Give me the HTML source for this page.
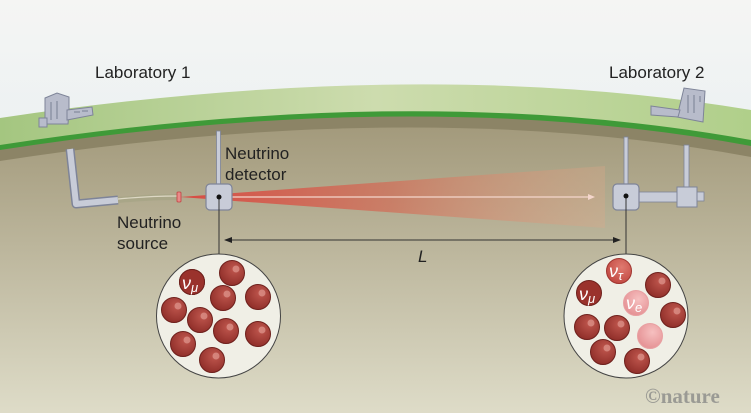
<!DOCTYPE html>
<html><head><meta charset="utf-8"><style>
html,body{margin:0;padding:0;width:751px;height:413px;overflow:hidden}
svg{display:block;font-family:"Liberation Sans",sans-serif}
</style></head><body>
<svg width="751" height="413" viewBox="0 0 751 413" xmlns="http://www.w3.org/2000/svg">
<defs>
<linearGradient id="sky" x1="0" y1="0" x2="0" y2="1"><stop offset="0" stop-color="#f5f5f3"/><stop offset="0.6" stop-color="#e4eef2"/><stop offset="1" stop-color="#cfe6f3"/></linearGradient>
<linearGradient id="earth" x1="0" y1="0" x2="0" y2="1"><stop offset="0" stop-color="#a39a7c"/><stop offset="1" stop-color="#dedcc8"/></linearGradient>
<linearGradient id="grass" x1="0" y1="0" x2="1" y2="0"><stop offset="0" stop-color="#a4c680"/><stop offset="0.5" stop-color="#cddcae"/><stop offset="1" stop-color="#b0cf8a"/></linearGradient>
<linearGradient id="beam" x1="0" y1="0" x2="1" y2="0"><stop offset="0" stop-color="#d84a42" stop-opacity="1"/><stop offset="0.5" stop-color="#d0705a" stop-opacity="0.75"/><stop offset="1" stop-color="#e0a888" stop-opacity="0.3"/></linearGradient>
<radialGradient id="ball" cx="0.6" cy="0.35" r="0.7"><stop offset="0" stop-color="#c0574e"/><stop offset="1" stop-color="#8e2d28"/></radialGradient>
<radialGradient id="pink" cx="0.6" cy="0.35" r="0.7"><stop offset="0" stop-color="#f6c0c0"/><stop offset="1" stop-color="#e48f92"/></radialGradient>
<radialGradient id="mid" cx="0.6" cy="0.35" r="0.7"><stop offset="0" stop-color="#e07a70"/><stop offset="1" stop-color="#c0463f"/></radialGradient>
<g id="b"><circle r="12.5" fill="url(#ball)" stroke="#6e201c" stroke-width="1"/><circle cx="4" cy="-4" r="3.5" fill="#e09890" opacity="0.7"/></g>
</defs>
<rect width="751" height="413" fill="url(#sky)"/>
<path d="M0 118 Q420 55 751 110 L751 413 L0 413 Z" fill="url(#grass)"/>
<path d="M0 145 Q420 80 751 140 L751 413 L0 413 Z" fill="#3f9a38"/>
<path d="M0 150 Q420 85 751 146 L751 413 L0 413 Z" fill="#8c8466"/>
<path d="M0 161 Q420 96 751 157 L751 413 L0 413 Z" fill="url(#earth)"/>
<!-- beam -->
<path d="M180 197 L605 166 L605 228 Z" fill="url(#beam)"/>
<line x1="230" y1="197" x2="588" y2="197" stroke="#f4d6cc" stroke-width="1.2"/>
<path d="M588 194 L595 197 L588 200 Z" fill="#f4d6cc"/>
<!-- lab 1 -->
<g fill="#b8bccb" stroke="#7e8498" stroke-width="1">
<path d="M45 124 L45 98 L57 93 L69 97 L69 110 L68 124 Z"/>
<path d="M67 110 L92 107 L93 115 L67 120 Z"/>
<rect x="39" y="118" width="8" height="9"/>
</g>
<path d="M51 102 v18 M57 101 v18 M74 112 h6 M82 111 h6" stroke="#8d93a6" stroke-width="1.5"/>
<!-- source tube -->
<path d="M70 149 L76 204 L118 200" fill="none" stroke="#7e8498" stroke-width="9" stroke-linejoin="round"/>
<path d="M70 149 L76 204 L118 200" fill="none" stroke="#c8ccd8" stroke-width="6" stroke-linejoin="round"/>
<path d="M118 200 Q150 197 178 197" fill="none" stroke="#a9a688" stroke-width="6"/>
<path d="M118 199 Q150 196 178 196" fill="none" stroke="#ddd8c4" stroke-width="1.2"/>
<rect x="177" y="192" width="4" height="10" rx="1" fill="#e88a88" stroke="#c04040" stroke-width="0.8"/>
<!-- detector 1 -->
<rect x="216.5" y="131" width="4" height="56" fill="#c8ccd8" stroke="#7e8498" stroke-width="0.8"/>
<rect x="206" y="184" width="26" height="26" rx="4" fill="#c8ccd8" stroke="#7e8498" stroke-width="1.2"/>
<!-- lab 2 -->
<g fill="#b8bccb" stroke="#7e8498" stroke-width="1">
<path d="M677 117 L684 88 L705 91 L703 122 Z"/>
<path d="M651 106 L680 110 L678 117 L651 115 Z"/>
</g>
<path d="M688 95 v18 M694 95 v18 M700 96 v6" stroke="#8d93a6" stroke-width="1.5"/>
<!-- detector 2 tubes -->
<rect x="624" y="137" width="4" height="50" fill="#c8ccd8" stroke="#7e8498" stroke-width="0.8"/>
<rect x="684" y="145" width="5" height="45" fill="#c8ccd8" stroke="#7e8498" stroke-width="0.8"/>
<rect x="636" y="192" width="42" height="10" fill="#c8ccd8" stroke="#7e8498" stroke-width="0.8"/>
<rect x="696" y="192" width="8" height="9" fill="#c8ccd8" stroke="#7e8498" stroke-width="0.8"/>
<rect x="677" y="187" width="20" height="20" fill="#c8ccd8" stroke="#7e8498" stroke-width="1"/>
<rect x="613" y="184" width="26" height="26" rx="4" fill="#c8ccd8" stroke="#7e8498" stroke-width="1.2"/>
<!-- verticals -->
<line x1="219" y1="197" x2="219" y2="254" stroke="#333" stroke-width="1"/>
<line x1="626" y1="197" x2="626" y2="254" stroke="#333" stroke-width="1"/>
<circle cx="219" cy="197" r="2.5" fill="#111"/>
<circle cx="626" cy="196" r="2.5" fill="#111"/>
<!-- L arrow -->
<line x1="225" y1="240" x2="620" y2="240" stroke="#333" stroke-width="1"/>
<path d="M224 240 L232 237 L232 243 Z" fill="#222"/>
<path d="M621 240 L613 237 L613 243 Z" fill="#222"/>
<text x="418" y="262" font-size="17" font-style="italic" fill="#222">L</text>
<!-- labels -->
<text x="95" y="78" font-size="17" fill="#222">Laboratory 1</text>
<text x="609" y="78" font-size="17" fill="#222">Laboratory 2</text>
<text x="225" y="159" font-size="17" fill="#222">Neutrino</text>
<text x="225" y="180" font-size="17" fill="#222">detector</text>
<text x="117" y="228" font-size="17" fill="#222">Neutrino</text>
<text x="117" y="249" font-size="17" fill="#222">source</text>
<!-- circle 1 -->
<circle cx="218.5" cy="316" r="62" fill="#f0efe6" stroke="#444" stroke-width="1"/>
<use href="#b" x="192" y="282"/><use href="#b" x="232" y="273"/><use href="#b" x="223" y="298"/>
<use href="#b" x="258" y="297"/><use href="#b" x="174" y="310"/><use href="#b" x="200" y="320"/>
<use href="#b" x="226" y="331"/><use href="#b" x="258" y="334"/><use href="#b" x="183" y="344"/>
<use href="#b" x="212" y="360"/>
<circle cx="192" cy="282" r="12.5" fill="#9a322c" stroke="#6e201c"/>
<text x="182" y="289" font-size="18" font-style="italic" fill="#fff">ν<tspan font-size="13" dy="3">μ</tspan></text>
<!-- circle 2 -->
<circle cx="626" cy="316" r="62" fill="#f0efe6" stroke="#444" stroke-width="1"/>
<circle cx="619" cy="271" r="12.5" fill="url(#mid)" stroke="#a03530"/>
<text x="609" y="277" font-size="18" font-style="italic" fill="#fff">ν<tspan font-size="13" dy="3">τ</tspan></text>
<use href="#b" x="658" y="285"/>
<circle cx="589" cy="293" r="12.5" fill="#9a322c" stroke="#6e201c"/>
<text x="579" y="300" font-size="18" font-style="italic" fill="#fff">ν<tspan font-size="13" dy="3">μ</tspan></text>
<circle cx="636" cy="303" r="12.5" fill="url(#pink)" stroke="#e8a0a2"/>
<text x="626" y="309" font-size="18" font-style="italic" fill="#fff">ν<tspan font-size="13" dy="3">e</tspan></text>
<use href="#b" x="673" y="315"/><use href="#b" x="587" y="327"/><use href="#b" x="617" y="328"/>
<circle cx="650" cy="336" r="12.5" fill="url(#pink)" stroke="#e8a0a2"/>
<use href="#b" x="603" y="352"/><use href="#b" x="637" y="361"/>
<text x="645" y="403" font-size="21" font-weight="bold" font-family="Liberation Serif,serif" fill="#9a9a94">©nature</text>
</svg>
</body></html>
